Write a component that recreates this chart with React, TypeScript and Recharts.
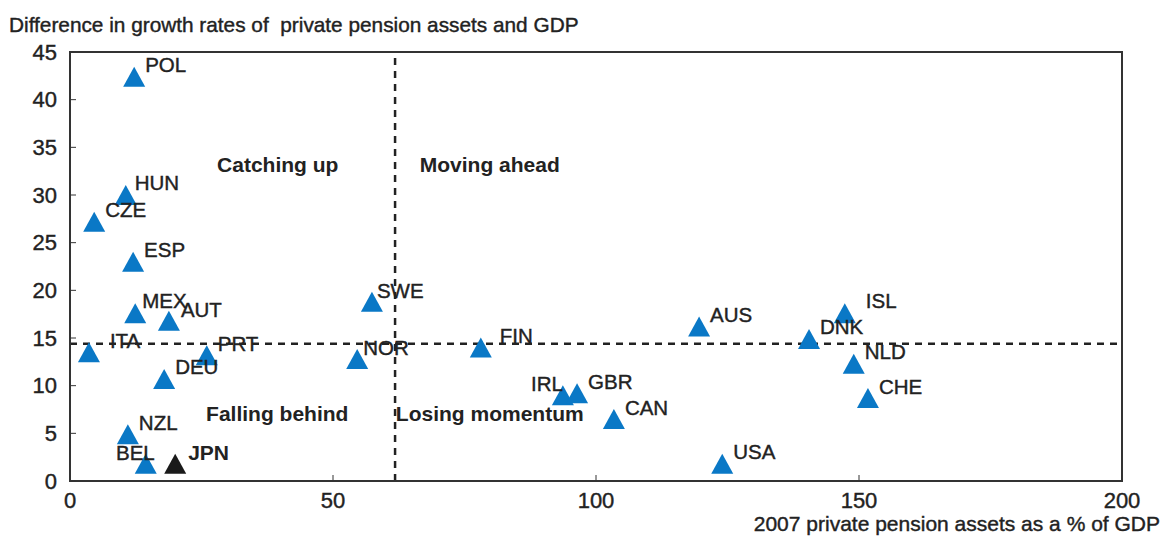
import React from "react";
import {
  ScatterChart,
  Scatter,
  XAxis,
  YAxis,
  ReferenceLine,
  ReferenceArea,
  ReferenceDot,
  LabelList,
} from "recharts";

const countries = [
  "POL", "HUN", "CZE", "ESP", "MEX", "AUT", "ITA", "PRT", "DEU", "NZL", "BEL",
  "NOR", "SWE", "FIN", "IRL", "GBR", "CAN", "AUS", "USA", "ISL", "DNK", "NLD", "CHE",
];
const pensionAssets = [
  12.2, 10.6, 4.6, 12.0, 12.4, 18.8, 3.6, 26.0, 17.9, 11.0, 14.4,
  54.6, 57.4, 78.1, 93.7, 96.4, 103.4, 119.6, 124.0, 147.3, 140.5, 149.0, 151.7,
];
const growthDiff = [
  42.4, 30.0, 27.2, 23.0, 17.6, 16.8, 13.5, 13.2, 10.7, 4.9, 1.8,
  12.8, 18.8, 14.0, 9.0, 9.2, 6.5, 16.2, 1.8, 17.6, 14.9, 12.3, 8.7,
];

const japan = { name: "JPN", x: 20.0, y: 1.8 };

const avgAssets = 61.8;
const avgGrowth = 14.4;

const xTicks = [0, 50, 100, 150, 200];
const yTicks = [0, 5, 10, 15, 20, 25, 30, 35, 40, 45];

const quadrants = [
  { text: "Catching up", x: 39.5, y: 33.2 },
  { text: "Moving ahead", x: 79.8, y: 33.2 },
  { text: "Falling behind", x: 39.4, y: 7.1 },
  { text: "Losing momentum", x: 79.8, y: 7.1 },
];

// label placement relative to the marker (dx, dy, anchor)
const nudge: Record<string, [number, number, string]> = {
  ITA: [21, -12, "start"],
  FIN: [19, -12, "start"],
  ISL: [21, -13, "start"],
  BEL: [9, -11, "end"],
  IRL: [0, -12, "end"],
  NOR: [6, -11, "start"],
  SWE: [5, -11, "start"],
  MEX: [7, -13, "start"],
  AUT: [12, -11, "start"],
  HUN: [9, -13, "start"],
};

const points = countries.map((c, i) => ({ name: c, x: pensionAssets[i], y: growthDiff[i] }));

const FONT = "'Liberation Sans', Arial, sans-serif";
const BLUE = "#0A78C6";
const INK = "#222";

const triangle = (color: string) => (props: any) => {
  const { cx, cy } = props;
  return (
    <polygon
      points={`${cx},${cy - 10} ${cx + 11},${cy + 10} ${cx - 11},${cy + 10}`}
      fill={color}
    />
  );
};

function CountryLabel(props: any) {
  const { x, y, width, height, value } = props;
  const cx = x + width / 2;
  const cy = y + height / 2;
  const [dx, dy, anchor] = nudge[value] ?? [11, -12, "start"];
  return (
    <text
      x={cx + dx}
      y={cy + dy}
      textAnchor={anchor}
      dominantBaseline="central"
      fontSize={20.5}
      fontFamily={FONT}
      fill={INK}
      stroke={INK}
      strokeWidth={0.4}
    >
      {value}
    </text>
  );
}

function JapanLabel(props: any) {
  const { x, y, width, height, value } = props;
  return (
    <text
      x={x + width / 2 + 13}
      y={y + height / 2 - 11}
      dominantBaseline="central"
      fontSize={21}
      fontWeight="bold"
      fontFamily={FONT}
      fill={INK}
    >
      {value}
    </text>
  );
}

const tickStyle = { fill: INK, fontSize: 22, fontFamily: FONT, stroke: INK, strokeWidth: 0.4 };

export default function App() {
  return (
    <div style={{ position: "absolute", left: 0, top: 0, width: 1163, height: 536, background: "#fff", fontFamily: FONT }}>
      <div style={{ position: "absolute", left: 9, top: 13, fontSize: 20.8, color: INK, whiteSpace: "pre", WebkitTextStroke: "0.4px #222", lineHeight: "24px" }}>
        Difference in growth rates of  private pension assets and GDP
      </div>
      <div style={{ position: "absolute", right: 3, top: 512, fontSize: 21, color: INK, WebkitTextStroke: "0.4px #222", lineHeight: "24px", whiteSpace: "pre" }}>
        2007 private pension assets as a % of GDP
      </div>
      <ScatterChart width={1163} height={536} margin={{ top: 52, right: 41, bottom: 0, left: 0 }}>
        <XAxis
          type="number"
          dataKey="x"
          domain={[0, 200]}
          ticks={xTicks}
          height={55}
          tickSize={-6}
          tickMargin={17}
          axisLine={{ stroke: "#333", strokeWidth: 2 }}
          tickLine={{ stroke: "#333" }}
          tick={tickStyle}
        />
        <YAxis
          type="number"
          dataKey="y"
          domain={[0, 45]}
          ticks={yTicks}
          width={70}
          tickSize={-6}
          tickMargin={19}
          axisLine={{ stroke: "#333", strokeWidth: 2 }}
          tickLine={{ stroke: "#333" }}
          tick={tickStyle}
        />
        <ReferenceArea x1={0} x2={200} y1={0} y2={45} fill="none" stroke="#333" strokeWidth={2} />
        <ReferenceLine x={avgAssets} stroke={INK} strokeWidth={2.5} strokeDasharray="7 6" />
        <ReferenceLine y={avgGrowth} stroke={INK} strokeWidth={2.5} strokeDasharray="7 6" />
        {quadrants.map((q) => (
          <ReferenceDot
            key={q.text}
            x={q.x}
            y={q.y}
            r={0}
            fill="none"
            stroke="none"
            label={{ value: q.text, position: "center", fontSize: 21, fontWeight: "bold", fill: INK, fontFamily: FONT }}
          />
        ))}
        <Scatter data={points} shape={triangle(BLUE)} isAnimationActive={false}>
          <LabelList dataKey="name" content={CountryLabel} />
        </Scatter>
        <Scatter data={[japan]} shape={triangle("#1a1a1a")} isAnimationActive={false}>
          <LabelList dataKey="name" content={JapanLabel} />
        </Scatter>
      </ScatterChart>
    </div>
  );
}
